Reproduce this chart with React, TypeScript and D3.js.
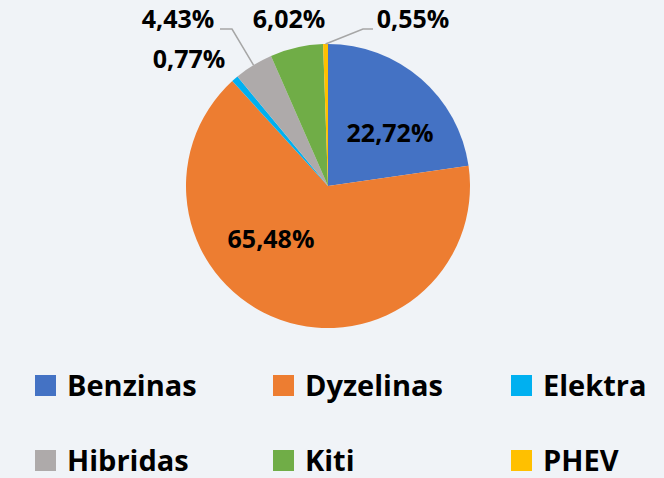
import React from "react";
import * as d3 from "d3";

const categories = ["Benzinas", "Dyzelinas", "Elektra", "Hibridas", "Kiti", "PHEV"];
const values = [22.72, 65.48, 0.77, 4.43, 6.02, 0.55];
const labels = ["22,72%", "65,48%", "0,77%", "4,43%", "6,02%", "0,55%"];
const colors = ["#4472C4", "#ED7D31", "#00B0F0", "#AEAAAA", "#70AD47", "#FFC000"];

// label layout (text anchor point: x center, baseline y) and optional leader elbow
const labelLayout: { x: number; y: number; elbow?: [number, number]; end?: [number, number] }[] = [
  { x: 390, y: 142 },
  { x: 271, y: 248 },
  { x: 189, y: 68 },
  { x: 178, y: 28, elbow: [232, 29], end: [220, 29] },
  { x: 289, y: 28 },
  { x: 413, y: 28, elbow: [363, 29], end: [373, 29] },
];

const W = 664;
const H = 478;
const cx = 328;
const cy = 186;
const R = 142;
const FONT = "'Open Sans', sans-serif";

export default function App() {
  const pie = d3.pie<number>().sort(null).value((d) => d);
  const arcs = pie(values);
  const arc = d3.arc<d3.PieArcDatum<number>>().innerRadius(0).outerRadius(R);
  const edge = d3.arc<d3.PieArcDatum<number>>().innerRadius(R).outerRadius(R);

  const colX = [35, 273, 511];
  const rowY = [375, 450];

  return (
    <div style={{ position: "fixed", left: 0, top: 0, width: W, height: H }}>
      <svg width={W} height={H} style={{ display: "block" }}>
        <rect x={0} y={0} width={W} height={H} fill="#F0F3F7" />
        <g transform={`translate(${cx},${cy})`}>
          {arcs.map((a, i) => (
            <path key={categories[i]} d={arc(a) || ""} fill={colors[i]} />
          ))}
        </g>
        {arcs.map((a, i) => {
          const L = labelLayout[i];
          if (!L.elbow || !L.end) return null;
          const [ex, ey] = edge.centroid(a);
          const pts: [number, number][] = [[cx + ex, cy + ey], L.elbow, L.end];
          return (
            <path
              key={"leader" + i}
              d={d3.line()(pts) || ""}
              fill="none"
              stroke="#A6A6A6"
              strokeWidth={1.5}
            />
          );
        })}
        {labels.map((t, i) => (
          <text
            key={"lbl" + i}
            x={labelLayout[i].x}
            y={labelLayout[i].y}
            textAnchor="middle"
            fontFamily={FONT}
            fontWeight={700}
            fontSize={25}
            fill="#000"
          >
            {t}
          </text>
        ))}
        {categories.map((c, i) => {
          const x = colX[i % 3];
          const y = rowY[Math.floor(i / 3)];
          return (
            <g key={"leg" + c}>
              <rect x={x} y={y} width={21} height={21} fill={colors[i]} />
              <text
                x={x + 32}
                y={y + 21}
                fontFamily={FONT}
                fontWeight={700}
                fontSize={29}
                fill="#000"
              >
                {c}
              </text>
            </g>
          );
        })}
      </svg>
    </div>
  );
}
